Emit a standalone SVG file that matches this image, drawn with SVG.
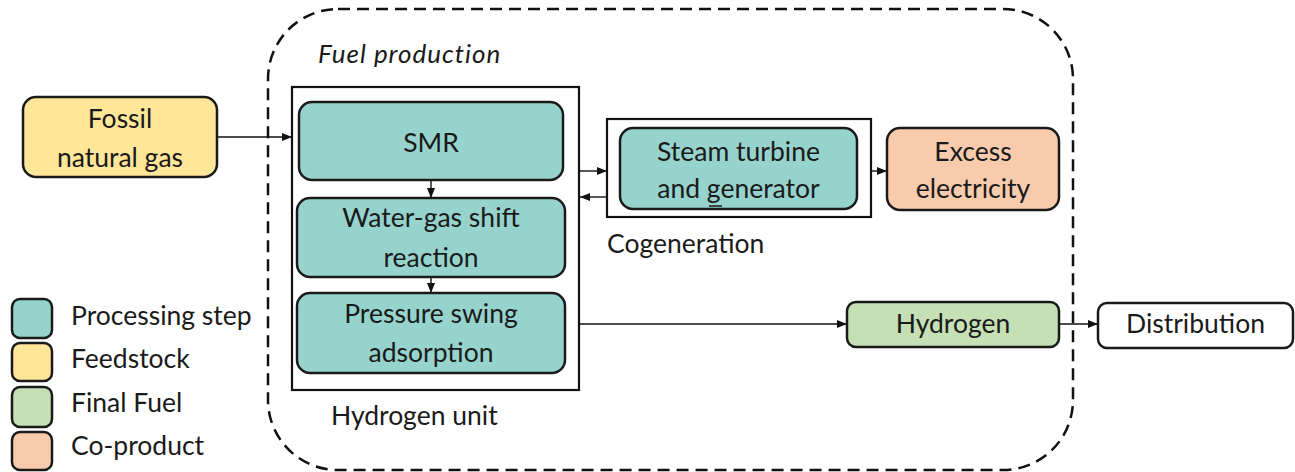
<svg xmlns="http://www.w3.org/2000/svg" width="1295" height="472" viewBox="0 0 1295 472">
  <style>
    text { font-family: Lato, "Liberation Sans", sans-serif; font-size: 26.5px; fill: #1a1a1a; }
    .c { text-anchor: middle; }
    .box { stroke: #1a1a1a; stroke-width: 2.5; }
    .proc { fill: #96D3CD; }
    .feed { fill: #FFE699; }
    .fuel { fill: #C5E0B4; }
    .coprod { fill: #F8CBAD; }
    .plain { fill: #FFFFFF; }
    .frame { fill: none; stroke: #111; stroke-width: 2.2; }
    .edge { stroke: #111; stroke-width: 1.4; fill: none; marker-end: url(#arrow); }
  </style>
  <defs>
    <marker id="arrow" markerUnits="userSpaceOnUse" markerWidth="10" markerHeight="8" refX="10" refY="4" orient="auto">
      <path d="M0,0 L10,4 L0,8 Z" fill="#111"/>
    </marker>
  </defs>

  <rect width="1295" height="472" fill="#FFFFFF"/>

  <!-- fuel production boundary -->
  <g id="fuel-production">
    <rect x="268" y="9" width="805" height="461" rx="70" ry="70" fill="none" stroke="#111" stroke-width="2.5" stroke-dasharray="12 7"/>
    <text x="318" y="63" style="font-style: italic; font-size: 26px; letter-spacing: 1px;">Fuel production</text>
  </g>

  <!-- hydrogen unit frame -->
  <g id="hydrogen-unit">
    <rect class="frame" x="292" y="87" width="287" height="303"/>
    <text x="331" y="425">Hydrogen unit</text>
  </g>

  <!-- cogeneration frame -->
  <g id="cogeneration">
    <rect class="frame" x="607" y="119" width="264" height="98"/>
    <text x="607" y="253">Cogeneration</text>
  </g>

  <!-- connectors -->
  <g id="connectors">
    <line class="edge" x1="217" y1="137" x2="292" y2="137"/>
    <line class="edge" x1="431" y1="180" x2="431" y2="198"/>
    <line class="edge" x1="431" y1="277" x2="431" y2="293"/>
    <line class="edge" x1="580" y1="171" x2="607" y2="171"/>
    <line class="edge" x1="607" y1="197" x2="580" y2="197"/>
    <line class="edge" x1="871" y1="171" x2="887" y2="171"/>
    <line class="edge" x1="580" y1="324" x2="847" y2="324"/>
    <line class="edge" x1="1059" y1="324" x2="1098" y2="324"/>
  </g>

  <g id="fossil-natural-gas">
    <rect class="box feed" x="23" y="97" width="194" height="80" rx="13"/>
    <text class="c" x="120" y="128">Fossil</text>
    <text class="c" x="120" y="167">natural gas</text>
  </g>

  <g id="smr">
    <rect class="box proc" x="299" y="102" width="264" height="78" rx="13"/>
    <text class="c" x="431" y="152">SMR</text>
  </g>

  <g id="water-gas-shift">
    <rect class="box proc" x="297" y="198" width="268" height="79" rx="13"/>
    <text class="c" x="431" y="227">Water-gas shift</text>
    <text class="c" x="431" y="267">reaction</text>
  </g>

  <g id="pressure-swing-adsorption">
    <rect class="box proc" x="297" y="293" width="268" height="80" rx="13"/>
    <text class="c" x="431" y="323">Pressure swing</text>
    <text class="c" x="431" y="362">adsorption</text>
  </g>

  <g id="steam-turbine">
    <rect class="box proc" x="620" y="128" width="237" height="81" rx="13"/>
    <text class="c" x="738.5" y="161">Steam turbine</text>
    <text class="c" x="738.5" y="198">and generator</text>
    <!-- underline beneath the "g" of generator -->
    <line x1="709" y1="206" x2="722" y2="206" stroke="#1a1a1a" stroke-width="1.5"/>
  </g>

  <g id="excess-electricity">
    <rect class="box coprod" x="887" y="128" width="172" height="82" rx="13"/>
    <text class="c" x="973" y="161">Excess</text>
    <text class="c" x="973" y="198">electricity</text>
  </g>

  <g id="hydrogen">
    <rect class="box fuel" x="847" y="302" width="212" height="45" rx="9"/>
    <text class="c" x="953" y="333">Hydrogen</text>
  </g>

  <g id="distribution">
    <rect class="box plain" x="1098" y="303" width="195" height="45" rx="9"/>
    <text class="c" x="1195.5" y="333">Distribution</text>
  </g>

  <!-- legend -->
  <g id="legend">
    <rect class="box proc" x="12" y="299" width="40" height="39" rx="8"/>
    <rect class="box feed" x="12" y="343" width="40" height="38" rx="8"/>
    <rect class="box fuel" x="12" y="387" width="40" height="40" rx="8"/>
    <rect class="box coprod" x="12" y="432" width="40" height="38" rx="8"/>
    <text x="71" y="325">Processing step</text>
    <text x="71" y="368">Feedstock</text>
    <text x="71" y="412">Final Fuel</text>
    <text x="71" y="455">Co-product</text>
  </g>
</svg>
